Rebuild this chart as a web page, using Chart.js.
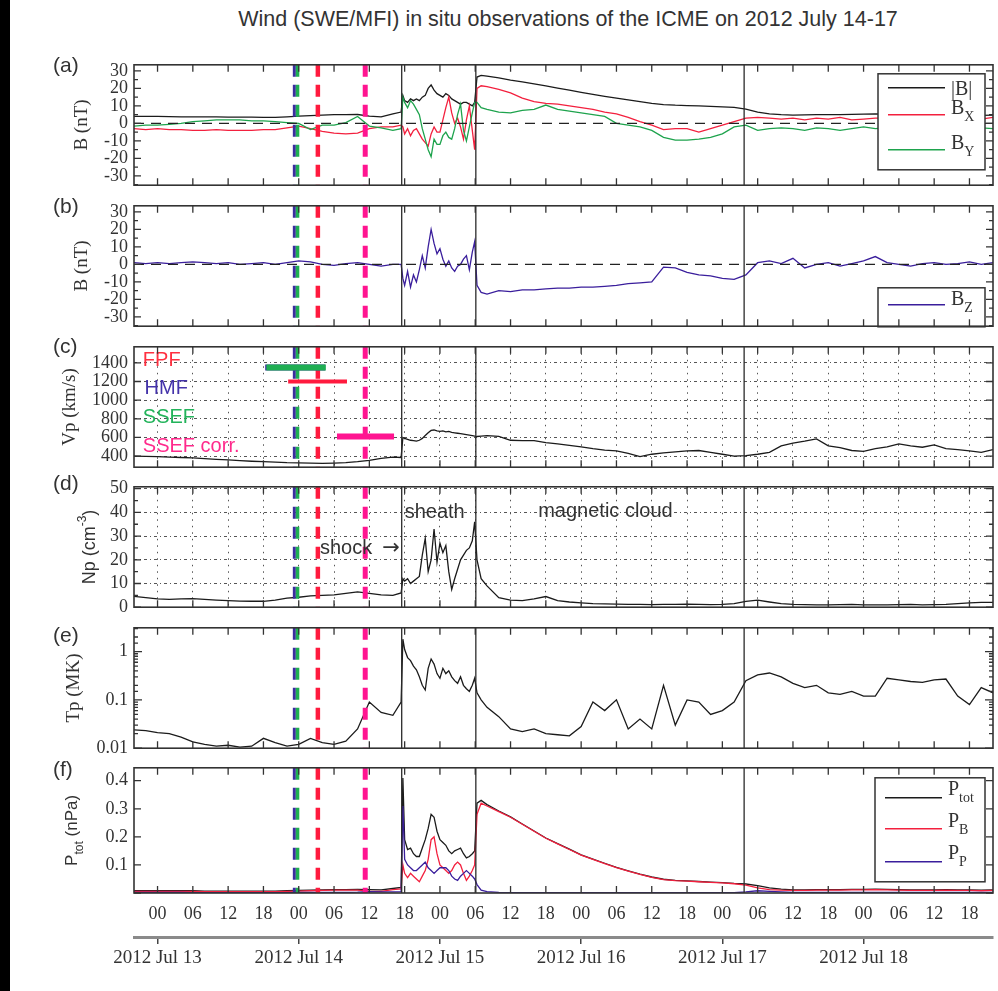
<!DOCTYPE html>
<html>
<head>
<meta charset="utf-8">
<title>Wind ICME 2012 July 14-17</title>
<script src="https://cdn.jsdelivr.net/npm/chart.js"></script>
<style>
  html, body { margin: 0; padding: 0; background: #fff; }
  body { position: relative; width: 998px; height: 991px; overflow: hidden; }
  #edge { position: absolute; left: 0; top: 0; width: 10px; height: 991px; background: #000; }
  #title { position: absolute; left: 138px; top: 6px; width: 860px; text-align: center; white-space: nowrap;
           font: 21.5px "Liberation Sans", Arial, sans-serif; line-height: 26px; color: #333; }
  canvas { position: absolute; left: 0; }
</style>
</head>
<body>
<div id="edge"></div>
<div id="title">Wind (SWE/MFI) in situ observations of the ICME on 2012 July 14-17</div>
<script>
const SERIF = '"Liberation Serif", "Times New Roman", serif';
const SANS = '"Liberation Sans", Arial, sans-serif';
const INK = '#333';

// time axis, hours after 2012 Jul 13 00:00 UT
const xMin = -4, xMax = 142;
const hours = [
  -4, -2, 0, 2, 4, 6, 8, 10, 12, 14, 16, 18, 20, 22, 24, 26, 28, 30, 32, 34, 36, 38, 40,
  41.4, 41.7, 42, 42.5, 43, 43.5, 44, 44.5, 45, 45.5, 46, 46.5, 47, 47.5, 48, 48.5, 49, 49.5,
  50, 50.5, 51, 51.5, 52, 52.5, 53, 53.5, 53.9,
  54.3, 55, 56, 58, 60, 62, 64, 66, 68, 70, 72, 74, 76, 78, 80, 82, 84, 86, 88, 90, 92, 94, 96, 98,
  100, 102, 104, 106, 108, 110, 112, 114, 116, 118, 120, 122, 124, 126, 128, 130, 132, 134, 136, 138, 140, 142
];

// (a) magnetic field, nT
const bTotal = [
  4, 4, 4, 3.9, 3.8, 3.8, 3.7, 3.7, 3.6, 3.6, 3.6, 3.5, 3.5, 3.8, 4.2, 4.5, 4.8, 5, 5, 5.1, 4.2, 3.8, 5.5,
  6.5, 16, 13, 12, 14, 13, 14, 13, 15, 16, 20, 22, 19, 17, 16, 15, 17, 16, 14, 13, 12, 11, 12, 12, 11, 10, 12,
  26.5, 27.5, 27, 26, 24.8, 23.8, 22.6, 21.4, 20.2, 19, 17.8, 16.6, 15.5, 14.4, 13.4, 12.4, 11.5, 10.8, 10.4, 10.2,
  10, 9.8, 9.5, 9.2, 8.2, 6.5, 5.4, 5, 4.8, 4.9, 5, 5, 5, 5.2, 5.3, 5.4, 5.3, 5, 4.8, 4.7, 4.8, 4.9, 4.8, 4.7, 4.6, 4.8
];
const bX = [
  -3, -3.5, -3, -3.5, -3.5, -4, -4, -3.5, -4, -4, -4, -3.5, -3.5, -2.5, -1.5, -3, -4.5, -5.5, -6, -5.5, -3, -2, -2,
  -1, -2, -6, -3, -7, -4, -3, -6, -9, -11, -13, -6, -2, -5, -5, 2, 9, 15, 6, 0, 3, -2, -9, 2, 10, -4, -15,
  20, 21.5, 21, 19.5, 17.5, 14.5, 12.5, 11.5, 11, 10, 9, 8, 6.5, 5.5, 3.5, 1, -1, -3.5, -3, -3,
  -5, -3, -1, 1, 3, 3.5, 3, 2.5, 3, 2, 3, 2.5, 3.5, 2, 2.5, 3, 3, 2, 3, 2.5, 3, 3.5, 2.5, 3, 2.5, 3.5
];
const bY = [
  -1.5, -1, -1, -0.5, 0, 1, 1.5, 2, 2, 2, 1.5, 1.5, 1, 0.5, 0, -3.5, -1, -1, 0.5, 4, -1.5, -2.5, -4,
  -3, 15, 12, 9, 13, 11, 8, 5, -3, -9, -15, -19, -9, -12, -12, -7, -5, -8, -9, -3, 5, 11, -4, -10, -2, 6, 12,
  12, 9, 8, 6.5, 6, 7.5, 8, 10.5, 8, 7, 6, 5, 4, 0, -1, -2, -4, -8, -9.5, -9.5,
  -9, -8, -6, -2, -1, -4, -3, -2.5, -3, -4, -2.5, -3, -4, -3, -2, -3, -2.5, -4, -3, -3, -2, -3, -3.5, -3, -2.5, -3
];
// (b)
const bZ = [
  1, 0.5, 1, 0.5, 1, 1.5, 1, 0.5, 1, 0, 0.5, 1, 0, 1, 2, 1.5, 0, -0.5, 0.5, 1, 0, -1, 0,
  0, -8, -12, -4, -13, -6, -10, -3, 5, -2, 10, 20, 12, 6, 9, 3, -1, 2, -2, -4, -1, 0, 3, 5, -3, 7, 13,
  -12, -16, -17, -15, -15.5, -14.5, -14.5, -14, -13.5, -13.5, -13, -13, -12.5, -12, -11, -10.5, -10, -1.5, -2, -4.5,
  -6, -6.5, -8, -8.5, -6, 1, 2, 0.5, 3.5, -2, 0, 1, -1, 0.5, 2, 4.5, 1, 0, -1, 0.5, 1, 0, 0.5, 1.5, 0, 1
];
// (c) proton speed, km/s
const vP = [
  400, 398, 395, 390, 385, 380, 372, 365, 360, 352, 345, 340, 335, 330, 328, 325, 322, 325, 330, 340, 355, 375, 390,
  385, 600, 590, 580, 570, 565, 560, 570, 590, 620, 650, 675, 680, 670, 665, 670, 660, 665, 655, 650, 645, 640, 635, 630, 625, 620, 615,
  610, 615, 620, 612, 570, 565, 565, 545, 530, 515, 500, 480, 465, 455, 430, 395, 420, 435, 445, 455,
  460, 440, 420, 400, 405, 420, 440, 510, 540, 560, 585, 510, 490, 460, 450, 480, 500, 530, 510, 495, 520, 480, 470, 455, 440, 470
];
// (d) proton density, cm^-3
const nP = [
  4.6, 4, 3.5, 3.3, 3.5, 3.6, 3.3, 3, 2.8, 2.6, 2.5, 2.5, 3, 3.8, 4.2, 4.8, 5, 5.2, 5.8, 6.5, 5.8, 5.2, 5,
  6, 12, 11, 12, 10, 11, 12, 13, 22, 29, 15, 20, 33, 19, 27, 23, 26, 15, 7.5, 12, 16, 20, 22, 24, 25, 28, 36,
  20, 12, 9, 4, 3, 2.8, 3.5, 4.5, 2.8, 2.2, 1.8, 1.5, 1.4, 1.3, 1.2, 1.2, 1.1, 1.2, 1.2, 1.3,
  1.2, 1.1, 1.2, 1.5, 2.5, 3, 2.2, 1.5, 1.2, 1.1, 1, 1, 1.1, 1.2, 1, 1, 1, 1.1, 1.2, 1, 1.1, 1.2, 1.5, 1.8, 2, 2
];
// (e) proton temperature, MK
const tP = [
  0.024, 0.023, 0.021, 0.02, 0.017, 0.0135, 0.012, 0.011, 0.0115, 0.0105, 0.011, 0.016, 0.013, 0.011, 0.012, 0.016,
  0.013, 0.012, 0.014, 0.025, 0.09, 0.055, 0.048,
  0.09, 1.8, 1.1, 0.75, 0.65, 0.5, 0.42, 0.3, 0.2, 0.16, 0.45, 0.7, 0.55, 0.35, 0.28, 0.45, 0.35, 0.4, 0.3, 0.25,
  0.22, 0.3, 0.2, 0.17, 0.15, 0.2, 0.28,
  0.14, 0.1, 0.07, 0.045, 0.025, 0.022, 0.025, 0.02, 0.019, 0.018, 0.028, 0.09, 0.06, 0.1, 0.025, 0.04, 0.025, 0.2, 0.03, 0.1,
  0.09, 0.05, 0.06, 0.09, 0.25, 0.33, 0.36, 0.3, 0.22, 0.18, 0.2, 0.14, 0.13, 0.15, 0.12, 0.12, 0.28, 0.26, 0.24, 0.23,
  0.26, 0.27, 0.12, 0.08, 0.18, 0.14
];
// (f) pressures, nPa
const pTot = [
  0.008, 0.008, 0.008, 0.008, 0.008, 0.008, 0.007, 0.007, 0.007, 0.007, 0.007, 0.007, 0.007, 0.008, 0.009, 0.01,
  0.011, 0.012, 0.012, 0.013, 0.012, 0.011, 0.016,
  0.02, 0.41, 0.19, 0.155, 0.16, 0.14, 0.13, 0.13, 0.16, 0.19, 0.23, 0.28, 0.27, 0.22, 0.19, 0.18, 0.17, 0.15, 0.14, 0.15,
  0.155, 0.16, 0.14, 0.125, 0.13, 0.14, 0.15,
  0.32, 0.33, 0.315, 0.292, 0.271, 0.246, 0.221, 0.196, 0.176, 0.156, 0.136, 0.121, 0.106, 0.091, 0.079, 0.067, 0.057, 0.049, 0.045, 0.043,
  0.041, 0.039, 0.037, 0.034, 0.032, 0.026, 0.018, 0.014, 0.011, 0.011, 0.012, 0.012, 0.012, 0.013, 0.013, 0.014, 0.013, 0.012, 0.011, 0.011,
  0.011, 0.012, 0.011, 0.011, 0.01, 0.011
];
const pB = [
  0.006, 0.006, 0.006, 0.006, 0.006, 0.006, 0.005, 0.005, 0.005, 0.005, 0.005, 0.005, 0.005, 0.006, 0.007, 0.008,
  0.009, 0.01, 0.01, 0.01, 0.007, 0.006, 0.012,
  0.015, 0.1, 0.07, 0.055, 0.07, 0.06, 0.05, 0.04, 0.06, 0.08, 0.12, 0.19, 0.2, 0.14, 0.1, 0.09, 0.08, 0.07, 0.08, 0.1,
  0.11, 0.1, 0.07, 0.045, 0.06, 0.08, 0.1,
  0.28, 0.32, 0.31, 0.29, 0.27, 0.245, 0.22, 0.195, 0.175, 0.155, 0.135, 0.12, 0.105, 0.09, 0.078, 0.066, 0.056, 0.048, 0.044, 0.042,
  0.04, 0.038, 0.036, 0.033, 0.028, 0.018, 0.012, 0.01, 0.009, 0.009, 0.01, 0.01, 0.01, 0.011, 0.011, 0.012, 0.011, 0.01, 0.009, 0.009,
  0.009, 0.01, 0.009, 0.009, 0.008, 0.009
];
const pP = [
  0.002, 0.002, 0.002, 0.002, 0.002, 0.001, 0.001, 0.001, 0.001, 0.001, 0.001, 0.001, 0.001, 0.001, 0.002, 0.002,
  0.002, 0.002, 0.002, 0.003, 0.005, 0.004, 0.004,
  0.005, 0.31, 0.12, 0.1, 0.09, 0.08, 0.08, 0.09, 0.1, 0.11, 0.09, 0.08, 0.07, 0.08, 0.09, 0.09, 0.09, 0.08, 0.06, 0.05,
  0.045, 0.06, 0.07, 0.08, 0.07, 0.06, 0.05,
  0.03, 0.01, 0.005, 0.002, 0.001, 0.001, 0.001, 0.001, 0.001, 0.001, 0.001, 0.001, 0.001, 0.001, 0.001, 0.001, 0.001, 0.001, 0.001, 0.001,
  0.001, 0.001, 0.001, 0.001, 0.004, 0.008, 0.006, 0.004, 0.002, 0.002, 0.002, 0.002, 0.002, 0.002, 0.002, 0.002, 0.002, 0.002, 0.002, 0.002,
  0.002, 0.002, 0.002, 0.002, 0.002, 0.002
];

// shock, start and end of the magnetic cloud (hours)
const boundaryHours = [41.5, 54.1, 99.7];
// predicted arrivals of the models
const modelNames = ['HMF', 'SSEF', 'FPF', 'SSEF corr.'];
const arrivalHours = [23.25, 23.8, 27.25, 35.3];
const arrivalFrom = [18.3, 18.5, 22.2, 30.5];
const arrivalTo = [28.5, 28.6, 32.2, 40.2];
const arrivalSpeed = [1350, 1350, 1200, 610];
const dayStart = 13; // 2012 Jul 13 at hour 0

const BLACK = '#1b1b1b', RED = '#f3203e', GREEN = '#1ea34d', PURPLE = '#3a1e9c';
const modelColors = ['#3b2d9e', '#1fae52', '#ff1a3e', '#ff1490'];
const modelText = ['#4433aa', '#22b35a', '#ff3040', '#ff2a8c'];
const dashWidths = [3, 3.5, 4.5, 5];
const barWidths = [6, 6, 4, 6];

const PAD = 12;
const pts = ys => hours.map((h, i) => ({x: h, y: ys[i]}));
const lin = v => String(v);

const panels = [
  {letter: '(a)', letterDy: 1, top: 60, yMin: -35.3, yMax: 33.5, step: 10, minor: true, zero: true, fmt: lin,
   title: [{t: 'B (nT)', f: '19px ' + SERIF}], titleX: 82.5,
   series: [[bY, GREEN], [bX, RED], [bTotal, BLACK]],
   legend: {box: [878, 9, 985, 105], items: [
     {ly: 23, ty: 25, color: BLACK, main: '|B|'},
     {ly: 50, ty: 44, color: RED, main: 'B', sub: 'X'},
     {ly: 85, ty: 79, color: GREEN, main: 'B', sub: 'Y'}]}},
  {letter: '(b)', letterDy: 1, top: 201, yMin: -35.3, yMax: 33.5, step: 10, minor: true, zero: true, fmt: lin,
   title: [{t: 'B (nT)', f: '19px ' + SERIF}], titleX: 82.5,
   series: [[bZ, PURPLE]],
   legend: {box: [878, 82, 985, 121], items: [{ly: 99, ty: 94, color: PURPLE, main: 'B', sub: 'Z'}]}},
  {letter: '(c)', letterDy: 0, top: 342, yMin: 281, yMax: 1572, step: 200, grid: true, bars: true, fmt: lin,
   title: [{t: 'Vp (km/s)', f: '19px ' + SERIF}], titleX: 70.5,
   series: [[vP, BLACK]],
   notes: [
     {text: 'FPF', x: -2.5, y: 1430, color: modelText[2]},
     {text: 'HMF', x: -2.2, y: 1125, color: modelText[0]},
     {text: 'SSEF', x: -2.5, y: 810, color: modelText[1]},
     {text: 'SSEF corr.', x: -2.5, y: 500, color: modelText[3]}]},
  {letter: '(d)', letterDy: -3, top: 482, yMin: 0, yMax: 50.8, step: 10, minor: true, grid: true, fmt: lin,
   title: [{t: 'Np (cm', f: '18px ' + SANS}, {t: '-3', f: '12px ' + SANS, dy: -7}, {t: ')', f: '18px ' + SANS}], titleX: 90,
   series: [[nP, BLACK]],
   notes: [
     {text: 'sheath', x: 42, y: 40, color: INK},
     {text: 'magnetic cloud', x: 64.7, y: 40.2, color: INK},
     {text: 'shock', x: 27.6, y: 24.9, color: INK},
     {text: '\u2192', x: 38.2, y: 24.9, color: INK, font: '21px "DejaVu Sans", sans-serif'}]},
  {letter: '(e)', letterDy: 8, top: 622.5, yMin: 0.01, yMax: 3.1, log: true,
   fmt: v => { const l = Math.log10(v); return Math.abs(l - Math.round(l)) < 1e-9 ? String(v) : ''; },
   title: [{t: 'Tp (MK)', f: '19px ' + SERIF}], titleX: 74.5,
   series: [[tP, BLACK]]},
  {letter: '(f)', letterDy: 2, top: 763, yMin: 0, yMax: 0.446, step: 0.1,
   fmt: v => v === 0 ? '' : v.toFixed(1),
   title: [{t: 'P', f: '17px ' + SANS}, {t: 'tot', f: '12px ' + SANS, dy: 7}, {t: ' (nPa)', f: '17px ' + SANS}], titleX: 72.5,
   series: [[pP, PURPLE], [pB, RED], [pTot, BLACK]],
   legend: {box: [875, 10, 985, 114], items: [
     {ly: 30, ty: 22, color: BLACK, main: 'P', sub: 'tot'},
     {ly: 61, ty: 54, color: RED, main: 'P', sub: 'B'},
     {ly: 94, ty: 86, color: PURPLE, main: 'P', sub: 'P'}]}}
];

function rich(ctx, segs, x, y, centered) {
  segs = segs.filter(Boolean);
  let w = 0;
  segs.forEach(s => { ctx.font = s.f; s.w = ctx.measureText(s.t).width; w += s.w; });
  let cx = centered ? x - w / 2 : x;
  ctx.textAlign = 'left';
  ctx.textBaseline = 'middle';
  segs.forEach(s => { ctx.font = s.f; ctx.fillText(s.t, cx, y + (s.dy || 0)); cx += s.w; });
}

function yMarks(p, ys) {
  const out = [];
  ys.ticks.forEach(t => {
    if (p.log) {
      const l = Math.log10(t.value);
      out.push([t.value, Math.abs(l - Math.round(l)) < 1e-9 ? 8 : 4]);
    } else {
      out.push([t.value, 7]);
      if (p.minor) {
        [t.value - p.step / 2, t.value + p.step / 2].forEach(m => {
          if (m > p.yMin && m < p.yMax) out.push([m, 4]);
        });
      }
    }
  });
  return out;
}

function decor(p) {
  return {
    id: 'decor',
    afterDatasetsDraw(chart) {
      const {ctx, chartArea: a} = chart;
      const xs = chart.scales.x, ys = chart.scales.y;
      ctx.save();
      (p.notes || []).forEach(n => {
        ctx.fillStyle = n.color;
        ctx.font = n.font || ('20px ' + SANS);
        ctx.textAlign = 'left';
        ctx.textBaseline = 'middle';
        ctx.fillText(n.text, xs.getPixelForValue(n.x), ys.getPixelForValue(n.y));
      });
      if (p.legend) {
        const [x1, y1, x2, y2] = p.legend.box;
        ctx.fillStyle = '#fff';
        ctx.fillRect(x1, a.top + y1, x2 - x1, y2 - y1);
        ctx.strokeStyle = INK;
        ctx.lineWidth = 1.5;
        ctx.strokeRect(x1, a.top + y1, x2 - x1, y2 - y1);
        p.legend.items.forEach(it => {
          ctx.strokeStyle = it.color;
          ctx.lineWidth = 1.5;
          ctx.beginPath();
          ctx.moveTo(x1 + 10, a.top + it.ly);
          ctx.lineTo(x1 + 67, a.top + it.ly);
          ctx.stroke();
          ctx.fillStyle = INK;
          rich(ctx, [{t: it.main, f: '20px ' + SERIF}, it.sub && {t: it.sub, f: '14px ' + SERIF, dy: 9}],
               x1 + 73, a.top + it.ty, false);
        });
      }
      // box and inward ticks
      ctx.strokeStyle = INK;
      ctx.lineWidth = 1.6;
      ctx.strokeRect(a.left, a.top, a.right - a.left, a.bottom - a.top);
      ctx.lineWidth = 1.3;
      ctx.beginPath();
      xs.ticks.forEach(t => {
        const px = xs.getPixelForValue(t.value);
        ctx.moveTo(px, a.top); ctx.lineTo(px, a.top + 7);
        ctx.moveTo(px, a.bottom); ctx.lineTo(px, a.bottom - 7);
      });
      yMarks(p, ys).forEach(([v, len]) => {
        const py = ys.getPixelForValue(v);
        ctx.moveTo(a.left, py); ctx.lineTo(a.left + len, py);
        ctx.moveTo(a.right, py); ctx.lineTo(a.right - len, py);
      });
      ctx.stroke();
      ctx.restore();
    },
    afterDraw(chart) {
      const {ctx, chartArea: a} = chart;
      ctx.save();
      ctx.fillStyle = INK;
      ctx.font = '21px ' + SANS;
      ctx.textAlign = 'left';
      ctx.textBaseline = 'middle';
      ctx.fillText(p.letter, 53, a.top + p.letterDy);
      ctx.translate(p.titleX, (a.top + a.bottom) / 2);
      ctx.rotate(-Math.PI / 2);
      rich(ctx, p.title, 0, 0, true);
      ctx.restore();
    }
  };
}

function vline(t, p, color, width, dash) {
  return {data: [{x: t, y: p.yMax}, {x: t, y: p.yMin}], borderColor: color, borderWidth: width, borderDash: dash || []};
}

panels.forEach((p, k) => {
  const last = k === panels.length - 1;
  const cv = document.createElement('canvas');
  cv.width = 998;
  cv.height = last ? 991 - (p.top - PAD) : 130 + 2 * PAD;
  cv.style.top = (p.top - PAD) + 'px';
  document.body.appendChild(cv);

  // first dataset is drawn on top
  const datasets = [];
  if (p.bars) {
    for (let i = modelNames.length - 1; i >= 0; i--) {
      datasets.push({data: [{x: arrivalFrom[i], y: arrivalSpeed[i]}, {x: arrivalTo[i], y: arrivalSpeed[i]}],
                     borderColor: modelColors[i], borderWidth: barWidths[i]});
    }
  }
  for (let i = modelNames.length - 1; i >= 0; i--) {
    datasets.push(vline(arrivalHours[i], p, modelColors[i], dashWidths[i], [12, 8]));
  }
  boundaryHours.forEach(t => datasets.push(vline(t, p, '#2a2a2a', 1.3)));
  if (p.zero) {
    datasets.push({data: [{x: xMin, y: 0}, {x: xMax, y: 0}], borderColor: '#222', borderWidth: 1.2, borderDash: [10, 7]});
  }
  p.series.forEach(([ys, c]) => datasets.push({data: pts(ys), borderColor: c, borderWidth: 1.3}));

  const scales = {
    x: {
      type: 'linear', min: xMin, max: xMax, weight: 0,
      grid: {display: !!p.grid, color: '#555', lineWidth: 1, drawTicks: false},
      border: {display: false, dash: [1.5, 5]},
      ticks: last ? {
        stepSize: 6, includeBounds: false, autoSkip: false, maxRotation: 0, padding: 10,
        color: INK, font: {family: SERIF, size: 18},
        callback: v => String(((v % 24) + 24) % 24).padStart(2, '0')
      } : {display: false, stepSize: 6, includeBounds: false, autoSkip: false}
    },
    y: {
      type: p.log ? 'logarithmic' : 'linear',
      min: p.yMin, max: p.yMax,
      afterFit: s => { s.width = 65; },
      grid: {display: !!p.grid, color: '#555', lineWidth: 1, drawTicks: false},
      border: {display: false, dash: [3, 3, 1, 3]},
      ticks: {stepSize: p.step, includeBounds: false, autoSkip: false, padding: 6,
              color: INK, font: {family: SERIF, size: 18}, callback: p.fmt}
    }
  };
  if (last) {
    scales.x.afterFit = s => { s.height = 44; };
    scales.x2 = {
      type: 'linear', min: xMin, max: xMax, position: 'bottom', weight: 1,
      afterFit: s => { s.height = 40; },
      grid: {display: true, drawOnChartArea: false, drawTicks: true, tickLength: 7, color: '#444', lineWidth: 1.5},
      border: {display: true, color: '#8a8a8a', width: 3},
      ticks: {stepSize: 24, includeBounds: false, autoSkip: false, maxRotation: 0, padding: 3,
              color: INK, font: {family: SERIF, size: 19},
              callback: v => '2012 Jul ' + (dayStart + Math.round(v / 24))}
    };
  }

  new Chart(cv, {
    type: 'line',
    data: {datasets},
    options: {
      responsive: false,
      animation: false,
      events: [],
      layout: {padding: {top: PAD, bottom: last ? 14 : PAD, left: 69, right: 5}},
      plugins: {legend: {display: false}, tooltip: {enabled: false}},
      elements: {point: {radius: 0}, line: {tension: 0, fill: false}},
      scales
    },
    plugins: [decor(p)]
  });
});
</script>
</body>
</html>
